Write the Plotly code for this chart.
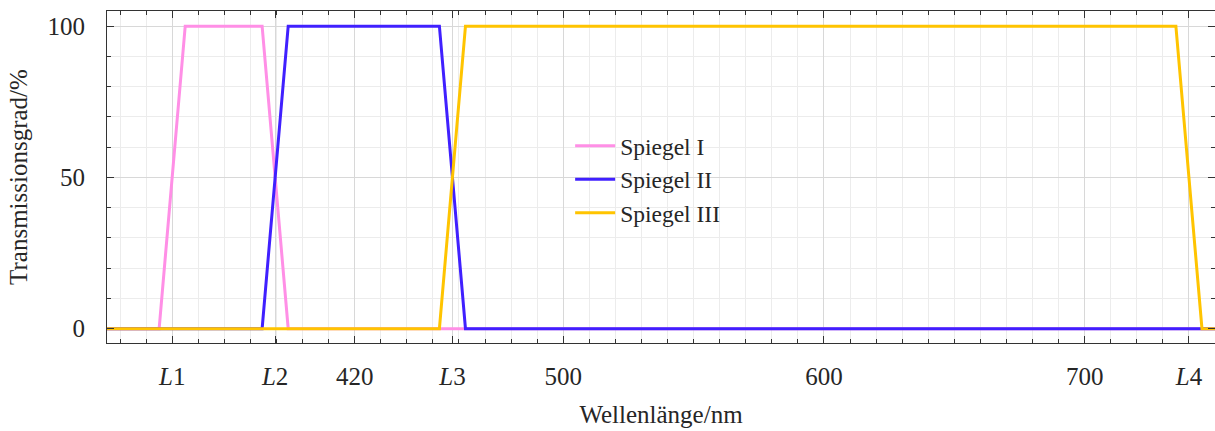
import plotly.graph_objects as go

# Wavelength positions of the laser lines (nm)
laser_names = ["L1", "L2", "L3", "L4"]
laser_nm = [350, 389.5, 457.5, 740]

# Numeric tick marks on the wavelength axis
numeric_ticks = [420, 500, 600, 700]

# Transmission curves of the three mirrors (wavelength in nm, transmission in %)
spiegel1_nm = [325, 345, 355, 384.5, 394.5, 750]
spiegel1_t = [0, 0, 100, 100, 0, 0]

spiegel2_nm = [325, 384.5, 394.5, 452.5, 462.5, 750]
spiegel2_t = [0, 0, 100, 100, 0, 0]

spiegel3_nm = [325, 452.5, 462.5, 735, 745, 750]
spiegel3_t = [0, 0, 100, 100, 0, 0]

series = [
    ("Spiegel I", spiegel1_nm, spiegel1_t, "#ff8fe6"),
    ("Spiegel II", spiegel2_nm, spiegel2_t, "#4020ff"),
    ("Spiegel III", spiegel3_nm, spiegel3_t, "#ffc400"),
]

FONT = "Liberation Serif"
FS = 25
TXT = "#262626"

fig = go.Figure()
for name, xs, ys, col in series:
    fig.add_trace(go.Scatter(x=xs, y=ys, mode="lines", name=name,
                             line=dict(color=col, width=3)))

# Combine laser lines and numeric labels into one sorted tick list
ticks = [(v, f"<i>L</i>{n[1:]}") for n, v in zip(laser_names, laser_nm)]
ticks += [(v, str(v)) for v in numeric_ticks]
ticks.sort()
tickvals = [t[0] for t in ticks]
ticktext = [t[1] for t in ticks]

axis_common = dict(
    showline=True, linecolor="#333333", linewidth=1, mirror="allticks",
    ticks="inside", tickcolor="#333333", tickwidth=1, ticklen=7,
    gridcolor="#d8d8d8", gridwidth=1, zeroline=False,
    tickfont=dict(family=FONT, size=FS, color=TXT),
)

fig.update_xaxes(
    range=[325, 750], tickmode="array", tickvals=tickvals, ticktext=ticktext,
    title=dict(text="Wellenlänge/nm", font=dict(family=FONT, size=FS, color=TXT),
               standoff=16),
    ticklabelstandoff=11,
    minor=dict(tickmode="linear", tick0=0, dtick=10, ticks="inside", ticklen=4,
               tickcolor="#333333", showgrid=True, gridcolor="#ececec", gridwidth=1),
    **axis_common,
)
fig.update_yaxes(
    range=[-4.75, 105], tickmode="array", tickvals=[0, 50, 100],
    title=dict(text="Transmissionsgrad/%", font=dict(family=FONT, size=FS, color=TXT),
               standoff=12),
    ticklabelstandoff=16,
    minor=dict(tickmode="linear", tick0=0, dtick=10, ticks="inside", ticklen=4,
               tickcolor="#333333", showgrid=True, gridcolor="#ececec", gridwidth=1),
    **axis_common,
)

fig.update_layout(
    width=1215, height=431,
    margin=dict(l=107, r=0, t=11, b=88),
    paper_bgcolor="white", plot_bgcolor="white",
    font=dict(family=FONT, size=FS, color=TXT),
    showlegend=True,
    legend=dict(x=0.418, y=0.66, xanchor="left", yanchor="top",
                itemwidth=40,
                bgcolor="rgba(0,0,0,0)", borderwidth=0,
                font=dict(family=FONT, size=23.5, color=TXT)),
)

fig.write_html("out.html")
